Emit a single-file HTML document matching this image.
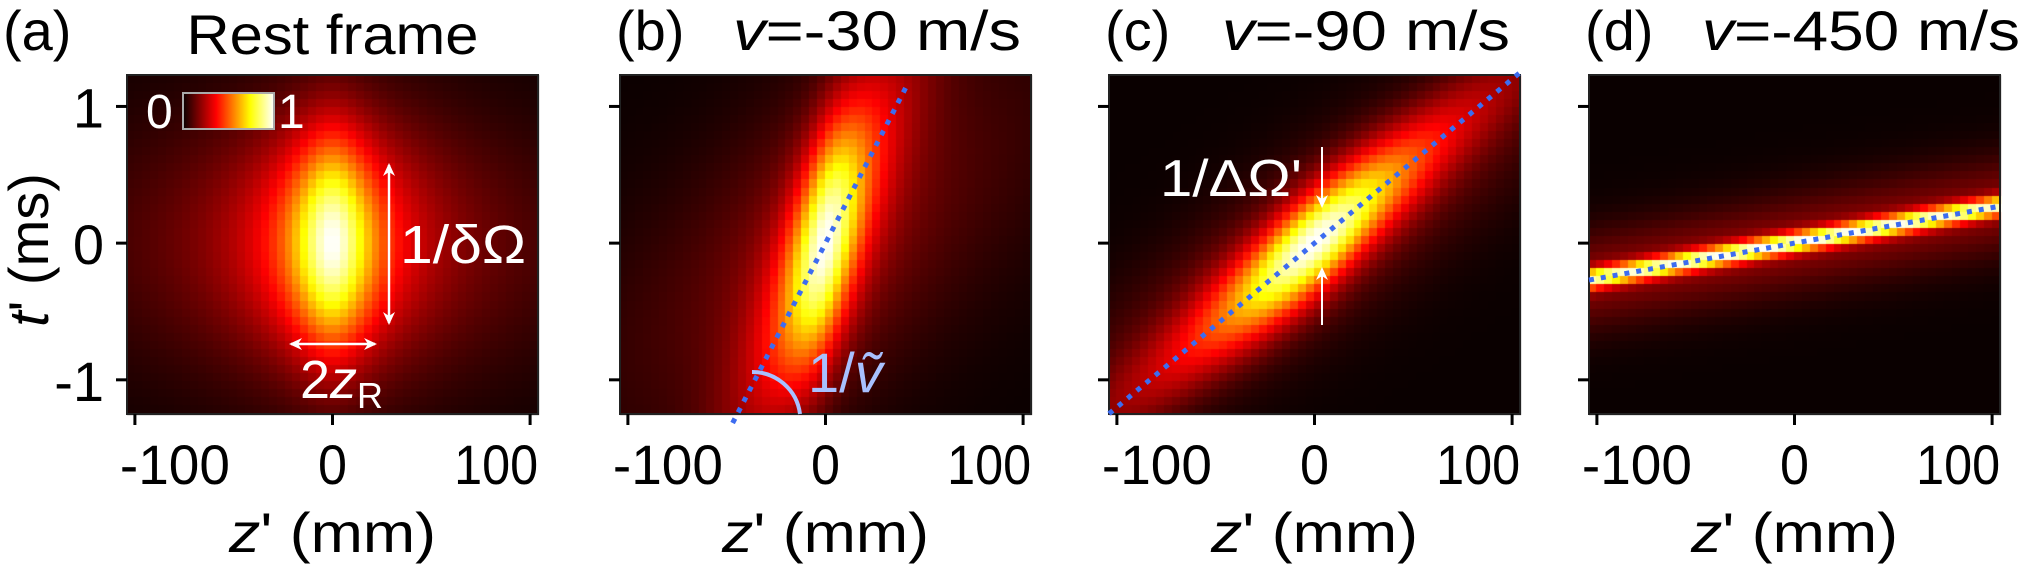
<!DOCTYPE html>
<html><head><meta charset="utf-8">
<style>
html,body{margin:0;padding:0;background:#fff;}
#wrap{position:relative;width:2019px;height:564px;overflow:hidden;}
canvas,svg{position:absolute;left:0;top:0;}
text{font-family:"Liberation Sans",sans-serif;}
</style></head>
<body>
<div id="wrap">
<canvas id="cv" width="2019" height="564"></canvas>
<svg id="sv" width="2019" height="564"></svg>
</div>
<script>
// ---- data ----
const panelLetters = ["(a)","(b)","(c)","(d)"];
const panelTitles = ["Rest frame","v=-30 m/s","v=-90 m/s","v=-450 m/s"];
const slopes = [0, 0.028, 0.012, 0.0026];        // ms per mm (1/ṽ)
const perpWidths = [0.55, 0.55, 0.25, 0.05];     // ms
const alongWidths = [21, 20, 45, 400];           // mm
const haloSlopes = [0, 0.008, 0.009, 0.0026];    // ms per mm
const haloAlong = [70, 70, 90, 400];             // mm
const haloWidths = [0.8, 0.8, 0.45, 0.25];       // ms
const xTicks = [-100, 0, 100];
const xTickLabels = ["-100","0","100"];
const yTicks = [1, 0, -1];
const yTickLabels = ["1","0","-1"];
const lineSpan = [[0,0],[-47,42],[-104,104],[-104,104]]; // mm extent of dotted guide

// ---- layout ----
const panelLeft = [127, 620, 1109, 1589];
const PW = 411, PT = 75, PB = 414;
const xmin = -104, xmax = 104, tmax = 1.23, tmin = -1.25;
function X(p, z){ return panelLeft[p] + (z - xmin) / (xmax - xmin) * PW; }
function Y(t){ return PT + (tmax - t) / (tmax - tmin) * (PB - PT); }

function hot(v){
  v = Math.max(0, Math.min(1, v));
  const r = Math.min(1, v/0.365), g = Math.max(0, Math.min(1,(v-0.365)/0.375)), b = Math.max(0, Math.min(1,(v-0.74)/0.26));
  return `rgb(${Math.round(10+245*r)},${Math.round(255*g)},${Math.round(255*b)})`;
}
function intensity(p, z, t){
  const u = t - slopes[p]*z, a = perpWidths[p], h = haloWidths[p];
  const uh = t - haloSlopes[p]*z;
  const core = 1/(1+(z/alongWidths[p])**2) * Math.exp(-u*u/(2*a*a));
  const halo = 1/(1+(z/haloAlong[p])**2) * Math.exp(-uh*uh/(2*h*h));
  return 0.8*core + 0.2*halo;
}

const ctx = document.getElementById('cv').getContext('2d');
const NC = 52, NR = 42;
for (let p=0;p<4;p++){
  for (let i=0;i<NC;i++){
    for (let j=0;j<NR;j++){
      const z0 = xmin + (xmax-xmin)*i/NC, z1 = xmin + (xmax-xmin)*(i+1)/NC;
      const t0 = tmax - (tmax-tmin)*j/NR, t1 = tmax - (tmax-tmin)*(j+1)/NR;
      ctx.fillStyle = hot(intensity(p,(z0+z1)/2,(t0+t1)/2));
      const x0 = X(p,z0), x1 = X(p,z1), y0 = Y(t0), y1 = Y(t1);
      ctx.fillRect(Math.floor(x0), Math.floor(y0), Math.ceil(x1)-Math.floor(x0)+1, Math.ceil(y1)-Math.floor(y0)+1);
    }
  }
}

const NS = "http://www.w3.org/2000/svg";
const svg = document.getElementById('sv');
function el(tag, attrs, txt){
  const e = document.createElementNS(NS, tag);
  for (const k in attrs) e.setAttribute(k, attrs[k]);
  if (txt !== undefined) e.textContent = txt;
  svg.appendChild(e); return e;
}

for (let p=0;p<4;p++){
  const L = panelLeft[p];
  const fr = el('rect',{x:L,y:PT,width:PW,height:PB-PT,fill:'none',stroke:'#222','stroke-width':2});
  
  
  xTicks.forEach((v,k)=>{
    const tk = el('line',{x1:X(p,v),x2:X(p,v),y1:PB,y2:PB+11,stroke:'#000','stroke-width':3});
    
    
    let attrs;
    if (v < 0) attrs = {x:X(p,v)-15, 'text-anchor':'start', textLength:110};
    else if (v > 0) attrs = {x:X(p,v)+8, 'text-anchor':'end', textLength:84};
    else attrs = {x:X(p,v), 'text-anchor':'middle', textLength:29};
    Object.assign(attrs,{y:484,'font-size':56,lengthAdjust:'spacingAndGlyphs',fill:'#000'});
    const tl = el('text',attrs,xTickLabels[k]);
    
    
  });
  yTicks.forEach((v,k)=>{
    const tk = el('line',{x1:L-11,x2:L,y1:Y(v),y2:Y(v),stroke:'#000','stroke-width':3});
    
    
    if (p===0){
      const tl = el('text',{x:104,y:Y(v)+21,'text-anchor':'end','font-size':56,fill:'#000'},yTickLabels[k]);
      
      
    }
  });
  const xl = el('text',{x:L+PW/2,y:552,'text-anchor':'middle','font-size':56,textLength:207,lengthAdjust:'spacingAndGlyphs',fill:'#000'});
  
  
  xl.innerHTML = '<tspan font-style="italic">z</tspan>\' (mm)';
  const pl = el('text',{x:p===0?3:L-4,y:50,'font-size':56,fill:'#000'},panelLetters[p]);
  
  
  let tt;
  if (p===0){
    tt = el('text',{x:L+PW/2,y:54,'text-anchor':'middle','font-size':56,textLength:292,lengthAdjust:'spacingAndGlyphs',fill:'#000'},panelTitles[0]);
  } else {
    const w = panelTitles[p].length>9?318:288;
    tt = el('text',{x:L+113,y:50,'font-size':56,textLength:w,lengthAdjust:'spacingAndGlyphs',fill:'#000'});
    tt.innerHTML = '<tspan font-style="italic">v</tspan>' + panelTitles[p].slice(1);
  }
  
  
  if (p>0){
    const z0 = lineSpan[p][0], z1 = lineSpan[p][1];
    const dl = el('line',{x1:X(p,z0),y1:Y(slopes[p]*z0),x2:X(p,z1),y2:Y(slopes[p]*z1),stroke:'#3d6cf0','stroke-width':5,'stroke-dasharray':'5 7'});
    
    
  }
}
const yt = el('text',{x:0,y:0,'text-anchor':'middle','font-size':56,fill:'#000',transform:'translate(48,250) rotate(-90)'});


yt.innerHTML = '<tspan font-style="italic">t</tspan>\' (ms)';

const defs = el('defs',{});
defs.innerHTML = '<linearGradient id="hotg" x1="0" x2="1" y1="0" y2="0"><stop offset="0" stop-color="#0a0000"/><stop offset="0.365" stop-color="#ff0000"/><stop offset="0.74" stop-color="#ffff00"/><stop offset="1" stop-color="#ffffff"/></linearGradient>';
const cb = el('rect',{x:183,y:93,width:91,height:36,fill:'url(#hotg)',stroke:'#aaa','stroke-width':2});


const c0 = el('text',{x:146,y:128,'font-size':48,fill:'#fff'},'0');


const c1 = el('text',{x:278,y:128,'font-size':48,fill:'#fff'},'1');



function arrowHead(x,y,dir,color){
  const s=13,w=6; let pts;
  if(dir==='up') pts=`${x},${y} ${x-w},${y+s} ${x},${y+s-4} ${x+w},${y+s}`;
  if(dir==='down') pts=`${x},${y} ${x-w},${y-s} ${x},${y-s+4} ${x+w},${y-s}`;
  if(dir==='left') pts=`${x},${y} ${x+s},${y-w} ${x+s-4},${y} ${x+s},${y+w}`;
  if(dir==='right') pts=`${x},${y} ${x-s},${y-w} ${x-s+4},${y} ${x-s},${y+w}`;
  const a = el('polygon',{points:pts,fill:color});
  
  
}
const va = el('line',{x1:389,y1:165,x2:389,y2:323,stroke:'#fff','stroke-width':2.5});


arrowHead(389,163,'up','#fff'); arrowHead(389,325,'down','#fff');
const dt = el('text',{x:400,y:263,'font-size':54,fill:'#fff',textLength:126,lengthAdjust:'spacingAndGlyphs'},'1/δΩ');


const ha = el('line',{x1:291,y1:344,x2:375,y2:344,stroke:'#fff','stroke-width':2.5});


arrowHead(289,344,'left','#fff'); arrowHead(377,344,'right','#fff');
const zr = el('text',{x:300,y:398,'font-size':54,fill:'#fff'});


zr.innerHTML = '2<tspan font-style="italic">z</tspan><tspan font-size="36" dy="10">R</tspan>';

const arc = el('path',{d:'M 752 372 A 48 48 0 0 1 800 414',fill:'none',stroke:'#a8c0ff','stroke-width':4});


const vt = el('text',{x:808,y:392,'font-size':56,fill:'#a8c0ff'});


vt.innerHTML = '1/<tspan font-style="italic">ṽ</tspan>';

const ta = el('line',{x1:1322,y1:147,x2:1322,y2:200,stroke:'#fff','stroke-width':2});


arrowHead(1322,208,'down','#fff');
const ba = el('line',{x1:1322,y1:275,x2:1322,y2:325,stroke:'#fff','stroke-width':2});


arrowHead(1322,267,'up','#fff');
const dO = el('text',{x:1160,y:196,'font-size':52,fill:'#fff',textLength:142,lengthAdjust:'spacingAndGlyphs'},"1/ΔΩ'");


</script>
</body></html>
